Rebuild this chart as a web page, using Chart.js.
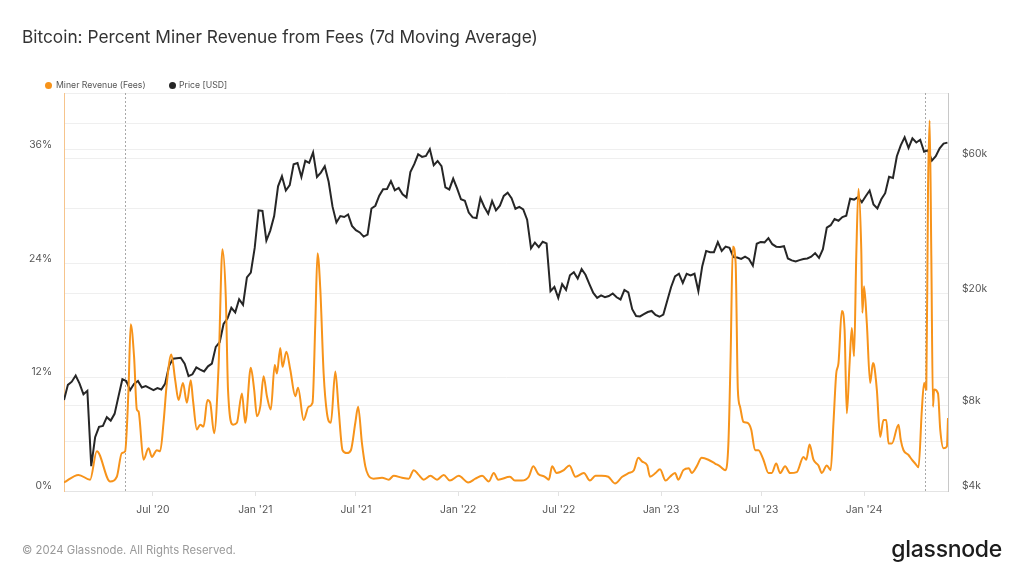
<!DOCTYPE html>
<html><head><meta charset="utf-8">
<script src="https://cdn.jsdelivr.net/npm/chart.js@4.4.1/dist/chart.umd.min.js"></script>
<style>
html,body{margin:0;padding:0;background:#fff;}
#wrap{position:relative;width:1024px;height:576px;overflow:hidden;font-family:Inter,"Noto Sans",sans-serif;background:#fff;}
#title{position:absolute;left:22px;top:26px;font-size:17.3px;color:#333;line-height:22px;white-space:nowrap;}
.lg{position:absolute;top:79px;font-size:8.7px;color:#555;line-height:12px;white-space:nowrap;}
.dot{position:absolute;width:7px;height:7px;border-radius:50%;top:81.5px;}
#foot{position:absolute;left:22px;top:543px;font-size:11.3px;line-height:14px;color:#999;white-space:nowrap;}
#logo{position:absolute;right:22px;top:535px;font-size:23px;line-height:28px;font-weight:500;color:#1c1c1c;letter-spacing:-0.3px;white-space:nowrap;}
canvas{position:absolute;left:0;top:0;}
</style></head>
<body><div id="wrap">
<canvas id="c" width="1024" height="576"></canvas>
<div id="title">Bitcoin: Percent Miner Revenue from Fees (7d Moving Average)</div>
<div class="dot" style="left:44.5px;background:#f7931a"></div>
<div class="lg" style="left:56px">Miner Revenue (Fees)</div>
<div class="dot" style="left:168.5px;background:#262626"></div>
<div class="lg" style="left:179px">Price [USD]</div>
<div id="foot">© 2024 Glassnode. All Rights Reserved.</div>
<div id="logo">glassnode</div>
</div>
<script>
// Day offsets are counted from 2020-01-23
const priceStepDays = 7;
const priceUsd = [
 8400, 9500, 9750, 10250, 9600, 8800, 9050, 4900, 6200, 6750,
 6800, 7300, 7100, 7500, 8650, 9950, 9800, 9100, 9580, 9800,
 9300, 9400, 9250, 9100, 9250, 9150, 9600, 11100, 11750, 11800,
 11850, 11300, 10200, 10350, 10950, 10750, 10600, 11050, 11300, 12950,
 13450, 15600, 16300, 17800, 17150, 19100, 18250, 22800, 23700, 29000,
 39400, 39200, 30800, 33400, 37600, 47900, 52000, 46300, 48400, 57300,
 57900, 51700, 59000, 58000, 63200, 51700, 53600, 56400, 49700, 40600,
 35700, 37600, 37300, 38100, 34700, 33500, 32900, 31800, 32300, 40000,
 40900, 44400, 46800, 46900, 50000, 46400, 47300, 44900, 43800, 53800,
 57400, 62200, 60900, 61400, 64900, 56900, 58900, 56500, 47500, 46700,
 51000, 47100,
 43100, 42600, 38700, 37200, 37000, 43500, 40500, 38300, 42500, 39400,
 40900, 44300, 45500, 43500, 39900, 40500, 39700, 36500, 28900, 30300,
 29200, 30500, 30100, 20400, 21100, 19300, 21600, 20600, 23200, 23800,
 22600, 24400, 23300, 21600, 20100, 19300, 19700, 19400, 19600, 20000,
 19400, 19050, 20600, 20200, 17600, 16650, 16600, 16900, 17200, 17350,
 16800, 16550,
 16850, 18850, 21100, 23000, 23500, 21800, 23500, 23200, 23500, 20400,
 25000, 28300, 28000, 28000, 30400, 28300, 29300, 29000, 26900, 26800,
 26500, 27000, 26500, 25100, 30000, 30450, 30350, 31400, 29900, 29300,
 29200, 29400, 26600, 26200, 25950, 26250, 26500, 26600, 27000, 27800,
 26750, 28700, 34200, 34900, 36700, 36200, 37300, 37700, 43300, 43000,
 43900, 42100,
 44200, 46300, 41300, 40000, 43100, 45300, 51800, 51300, 61200, 66900,
 71400, 65500, 70800, 68500, 70000, 63500, 64300, 59100, 61200, 65300,
 67900, 68400
];
const feeDay = [0,26,47,59,83,95,104,110,116,120,126,131,134,143,152,158,167,173,179,185,193,200,206,214,221,228,232,239,245,251,258,263,270,278,285,291,295,304,311,320,326,336,342,347,353,359,365,372,379,383,389,393,400,407,416,421,431,440,447,452,456,461,467,473,480,488,494,501,509,516,524,529,536,542,547,557,572,584,593,608,620,629,638,647,659,671,683,694,710,727,740,752,764,773,781,802,811,823,836,844,853,865,872,878,886,899,909,920,935,946,956,967,979,991,1004,1016,1025,1033,1040,1049,1054,1064,1072,1082,1090,1099,1105,1114,1124,1129,1138,1147,1159,1171,1180,1189,1195,1199,1203,1208,1212,1216,1222,1229,1236,1243,1249,1258,1267,1273,1281,1288,1297,1306,1318,1330,1335,1341,1348,1357,1363,1372,1379,1384,1389,1393,1399,1404,1408,1413,1417,1421,1425,1429,1434,1436,1439,1444,1450,1455,1457,1462,1468,1474,1479,1483,1489,1501,1505,1510,1519,1525,1531,1537,1543,1547,1551,1554,1557,1560,1563,1565,1572,1576,1582,1588,1590];
const feePct = [0.9,1.7,1.2,4.2,1.0,1.5,4.0,4.2,10.7,17.6,14.2,8.6,8.4,3.3,4.5,3.6,4.3,4.2,7.2,11.4,14.4,11.7,9.6,11.4,9.3,11.7,9.6,6.5,7.0,6.8,9.6,9.3,6.1,13.1,25.5,20.5,10.7,7.0,7.2,10.3,7.2,13.0,10.7,7.9,8.9,12.1,10.0,8.6,13.3,12.4,15.1,13.1,14.7,12.8,10.0,10.9,7.5,8.9,9.3,17.7,25.1,21.3,12.4,8.2,7.2,12.6,8.6,4.3,4.0,4.3,7.2,8.9,5.0,2.6,1.7,1.3,1.4,1.2,1.6,1.4,1.3,2.2,1.7,1.2,1.6,1.2,1.7,1.1,1.6,0.9,1.3,1.6,1.0,1.9,1.2,1.5,1.1,1.1,1.5,2.6,1.8,1.5,1.2,2.6,1.9,2.2,2.7,1.5,1.9,1.1,1.6,1.6,1.5,0.8,1.5,1.9,2.2,3.5,3.1,2.7,1.5,1.9,2.3,1.1,1.5,1.9,1.2,2.2,2.4,1.9,2.6,3.5,3.3,2.9,2.6,2.2,5.0,14.2,25.8,24.1,10.7,8.9,7.3,7.2,6.5,4.3,4.3,3.3,1.9,1.9,2.9,1.9,2.6,1.9,2.0,3.6,3.3,4.9,3.3,2.7,1.9,2.7,2.2,7.2,12.4,13.5,19.0,17.0,8.2,13.5,17.2,14.2,24.8,31.9,25.5,18.8,21.6,17.7,11.4,13.5,13.3,10.7,5.7,7.5,7.5,5.0,5.0,7.0,5.4,4.3,3.8,3.3,2.9,2.5,8.6,11.4,10.7,31.5,39.1,24.8,8.9,10.7,10.3,6.5,4.5,4.7,7.7];
const halvingDays = [109, 1549];
const xTickDays = [160, 344, 525, 709, 890, 1074, 1255, 1439];
const xTickLabels = ["Jul '20", "Jan '21", "Jul '21", "Jan '22", "Jul '22", "Jan '23", "Jul '23", "Jan '24"];
const feeTicks = [0, 12, 24, 36, 42];
const feeTickLabels = ["0%", "12%", "24%", "36%", ""];
const priceTicks = [4000, 6000, 8000, 16000, 20000, 40000, 60000, 80000];
const priceTickLabels = ["$4k", "", "$8k", "", "$20k", "", "$60k", ""];

const FONT = {family: 'Inter, "Noto Sans", sans-serif', size: 10.3};
const halvingPlugin = {
  id: 'halving',
  beforeDatasetsDraw(chart) {
    const {ctx, chartArea, scales} = chart;
    ctx.save();
    ctx.strokeStyle = '#a8a8a8';
    ctx.lineWidth = 1;
    ctx.setLineDash([2, 2]);
    halvingDays.forEach(d => {
      const x = Math.round(scales.x.getPixelForValue(d)) + 0.5;
      ctx.beginPath();
      ctx.moveTo(x, chartArea.top);
      ctx.lineTo(x, chartArea.bottom);
      ctx.stroke();
    });
    ctx.restore();
  }
};

new Chart(document.getElementById('c'), {
  type: 'line',
  data: {
    datasets: [
      {
        label: 'Miner Revenue (Fees)',
        data: feeDay.map((d, i) => ({x: d, y: feePct[i]})),
        yAxisID: 'yFee',
        borderColor: '#f7931a',
        borderWidth: 2,
        pointRadius: 0,
        cubicInterpolationMode: 'monotone'
      },
      {
        label: 'Price [USD]',
        data: priceUsd.map((p, i) => ({x: i * priceStepDays, y: p})),
        yAxisID: 'yPrice',
        borderColor: '#262626',
        borderWidth: 2,
        pointRadius: 0
      }
    ]
  },
  options: {
    responsive: false,
    animation: false,
    devicePixelRatio: 1,
    layout: {padding: {top: 93, bottom: 55, left: 0, right: 0}},
    plugins: {legend: {display: false}, tooltip: {enabled: false}},
    scales: {
      x: {
        type: 'linear', min: 0, max: 1590,
        afterBuildTicks: s => { s.ticks = xTickDays.map(v => ({value: v})); },
        afterFit: s => { s.height = 30; },
        grid: {drawOnChartArea: false, tickLength: 5, tickColor: '#e2e2e2'},
        border: {color: '#e4e4e4'},
        ticks: {
          autoSkip: false, maxRotation: 0, padding: 8, color: '#555', font: FONT,
          callback: v => xTickLabels[xTickDays.indexOf(v)] || ''
        }
      },
      yFee: {
        type: 'linear', position: 'left', min: 0, max: 42,
        afterBuildTicks: s => { s.ticks = feeTicks.map(v => ({value: v})); },
        afterFit: s => { s.width = 64; },
        grid: {color: '#efefef', drawTicks: false},
        border: {color: '#f6c48c'},
        ticks: {
          padding: 12, labelOffset: -5, color: '#555', font: FONT,
          callback: v => feeTickLabels[feeTicks.indexOf(v)]
        }
      },
      yPrice: {
        type: 'logarithmic', position: 'right', min: 4000, max: 102500,
        afterBuildTicks: s => { s.ticks = priceTicks.map(v => ({value: v})); },
        afterFit: s => { s.width = 76; },
        grid: {color: '#efefef', drawTicks: false},
        border: {color: '#c8c8c8'},
        ticks: {
          padding: 14, labelOffset: -5, color: '#555', font: FONT,
          callback: v => priceTickLabels[priceTicks.indexOf(v)]
        }
      }
    }
  },
  plugins: [halvingPlugin]
});
</script>
</body></html>
